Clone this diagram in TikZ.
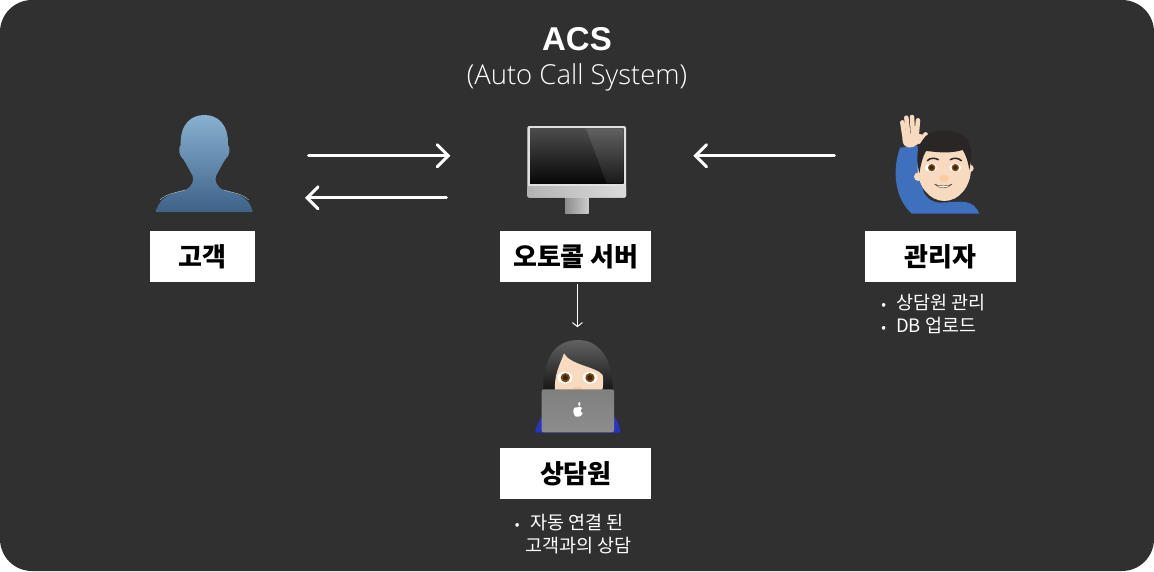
\documentclass[tikz,border=0pt]{standalone}
\usepackage{fontspec}
\setmainfont{Noto Sans CJK KR}
\newfontfamily\titlefont{Liberation Sans}
\newfontfamily\lightfont{Open Sans Light}
\usetikzlibrary{arrows.meta,positioning}
\definecolor{panel}{HTML}{303030}
\definecolor{skin}{HTML}{F8DAC0}
\definecolor{hairdark}{HTML}{2A2625}
\definecolor{shirt}{HTML}{3E70BE}
\definecolor{iris}{HTML}{7A4A12}
\definecolor{headtop}{HTML}{88B0D0}
\definecolor{headbottom}{HTML}{3E6288}
\definecolor{sleeve}{HTML}{2834BE}
\tikzset{
    every picture/.style={x=1pt,y=-1pt},
    namebox/.style={fill=white,text=black,inner sep=0pt,minimum height=51pt,font=\fontsize{26}{26}\selectfont\bfseries},
    iconbox/.style={inner sep=0pt,outer sep=0pt},
    notetext/.style={text=white,inner sep=0pt,align=left,font=\fontsize{18.5}{23}\selectfont},
    flow/.style={draw=white,line width=3pt,line cap=round,-{Straight Barb[length=11pt,width=22pt,line cap=round]}},
    thinflow/.style={draw=white,line width=1pt,-{Straight Barb[length=4pt,width=10pt]}},
    finger/.style={draw=skin,line width=4.5pt,line cap=round},
    zoomed/.style={scale=1/3}
}

\begin{document}
\begin{tikzpicture}
    \useasboundingbox (0,0) rectangle (1154,571);
    \fill[white] (0,0) rectangle (1154,571);
    \fill[panel,rounded corners=32pt] (0,0) rectangle (1154,571);

    \node[namebox,minimum width=105pt] (custbox) at (202.5,256.5) {고객};
    \node[namebox,minimum width=151pt] (srvbox) [right=245pt of custbox] {오토콜 서버};
    \node[namebox,minimum width=151pt] (mgrbox) [right=214pt of srvbox,xshift=-1pt] {관리자};
    \node[namebox,minimum width=151pt] (agentbox) [below=166pt of srvbox] {상담원};

    \node[iconbox,minimum width=100pt,minimum height=98pt] (cust) [above=18pt of custbox,xshift=1.5pt] {};
    \node[iconbox,minimum width=100pt,minimum height=87pt] (server) [above=18pt of srvbox,xshift=1.5pt] {};
    \node[iconbox,minimum width=87pt,minimum height=99pt] (mgr) [above=17pt of mgrbox,xshift=-2pt] {};
    \node[iconbox,minimum width=85pt,minimum height=93pt] (agent) [above=15pt of agentbox,xshift=2pt] {};

    \node[text=white,font=\titlefont\fontsize{33}{33}\selectfont\bfseries] (title) at (577,39) {ACS};
    \node[text=white,font=\lightfont\fontsize{27.5}{27.5}\selectfont] (subtitle) [below=6pt of title] {(Auto Call System)};
    \node[notetext] (mgrnote) [below=12pt of mgrbox,xshift=-7pt] {{\fontsize{14}{14}\selectfont\textbullet}\hspace{10pt}상담원 관리\\{\fontsize{14}{14}\selectfont\textbullet}\hspace{10pt}DB 업로드};
    \node[notetext] (agentnote) [below=14pt of agentbox,xshift=-2.5pt] {{\fontsize{14}{14}\selectfont\textbullet}\hspace{11pt}자동 연결 된\\\hspace{11pt}고객과의 상담};

    \draw[flow,shorten <=54.5pt,shorten >=77pt] ([yshift=8pt]cust.east) -- ([yshift=13.5pt]server.west);
    \draw[flow,shorten <=81pt,shorten >=51pt] ([yshift=-28.5pt]server.west) -- ([yshift=-34pt]cust.east);
    \draw[flow,shorten <=60.5pt,shorten >=66pt] ([yshift=8.5pt]mgr.west) -- ([yshift=13.5pt]server.east);
    \draw[thinflow,shorten <=2pt,shorten >=13pt] (server |- srvbox.south) -- (server |- agent.north);

    % customer
    \begin{scope}[shift={(130,100)},zoomed]
        \shade[top color=headtop,bottom color=headbottom]
            (78,336) .. controls (88,285) and (135,280) .. (165,270) .. controls (188,260) and (192,240) .. (188,228)
            .. controls (178,210) and (168,190) .. (160,178) .. controls (146,168) and (144,142) .. (152,135)
            .. controls (150,70) and (185,45) .. (223,45) .. controls (261,45) and (296,70) .. (294,135)
            .. controls (302,142) and (300,168) .. (286,178) .. controls (278,190) and (268,210) .. (258,228)
            .. controls (254,240) and (258,260) .. (281,270) .. controls (311,280) and (358,285) .. (368,336) -- cycle;
        \draw[headtop!55!white,line width=.4pt] (90,300) .. controls (110,280) and (140,278) .. (165,270);
        \draw[headtop!55!white,line width=.4pt] (281,270) .. controls (306,278) and (336,280) .. (356,300);
    \end{scope}

    % monitor
    \begin{scope}[shift={(490,110)},zoomed]
        \shade[left color=black!45,right color=black!20] (225,260) rectangle (296,310);
        \fill[black!12,rounded corners=2pt] (112,48) rectangle (408,263);
        \shade[left color=black!30,right color=black!14,rounded corners=1.5pt] (112,228) rectangle (408,263);
        \shade[top color=black!70,bottom color=black!97] (120,55) rectangle (401,220);
        \shade[top color=black!62,bottom color=black!90] (288,55) -- (401,55) -- (401,220) -- (350,220) -- cycle;
    \end{scope}

    % manager
    \begin{scope}[shift={(840,105)},zoomed]
        \fill[shirt] (215,326) .. controls (165,280) and (155,200) .. (180,128) -- (232,122) -- (250,260)
            .. controls (262,285) and (285,293) .. (300,293) -- (360,290) .. controls (395,290) and (410,305) .. (418,326) -- cycle;
        \draw[finger] (193,92) -- (187,52);
        \draw[finger] (205,90) -- (199,38);
        \draw[finger] (219,90) -- (216,36);
        \draw[finger] (230,92) -- (234,46);
        \draw[finger] (238,110) -- (257,88);
        \fill[skin] (188,85) .. controls (184,110) and (190,125) .. (205,127) .. controls (228,128) and (242,115) .. (247,88) -- cycle;
        \fill[skin] (235,215) circle[radius=13];
        \fill[skin] (390,190) circle[radius=11];
        \fill[skin] (313,190) ellipse[x radius=80,y radius=98];
        \fill[hairdark] (238,205) .. controls (225,150) and (235,120) .. (248,105) .. controls (265,72) and (325,70) .. (355,85)
            .. controls (390,98) and (402,130) .. (388,195) .. controls (384,170) and (378,150) .. (368,135)
            .. controls (325,148) and (285,140) .. (258,138) .. controls (248,155) and (242,180) .. (238,205) -- cycle;
        \draw[hairdark,line width=1.5pt,line cap=round] (262,167) .. controls (270,158) and (285,158) .. (295,164);
        \draw[hairdark,line width=1.5pt,line cap=round] (331,164) .. controls (340,158) and (355,158) .. (364,167);
        \fill[white] (273,188) ellipse[x radius=18,y radius=12];
        \fill[white] (346,188) ellipse[x radius=18,y radius=12];
        \fill[iris] (275,188) circle[radius=11];
        \fill[iris] (346,188) circle[radius=11];
        \fill[iris!50!black] (275,188) circle[radius=6];
        \fill[iris!50!black] (346,188) circle[radius=6];
        \fill[skin!85!orange] (312,220) ellipse[x radius=15,y radius=11];
        \fill[white,draw=iris!60!black,line width=.4pt] (285,238) .. controls (300,244) and (320,244) .. (335,238) .. controls (325,252) and (295,252) .. (285,238) -- cycle;
    \end{scope}

    % agent
    \begin{scope}[shift={(490,330)},zoomed]
        \fill[sleeve] (135,308) .. controls (140,285) and (150,262) .. (165,252) -- (365,252) .. controls (380,262) and (388,285) .. (392,308) -- cycle;
        \shade[top color=black!62,bottom color=black!92] (160,185) .. controls (158,110) and (180,30) .. (265,30) .. controls (340,30) and (372,110) .. (368,185) -- cycle;
        \fill[skin] (195,185) .. controls (192,130) and (210,105) .. (222,70) .. controls (240,105) and (320,110) .. (338,135) .. controls (340,150) and (340,170) .. (336,185) -- cycle;
        \fill[white] (225,143) ellipse[x radius=22,y radius=18];
        \fill[white] (300,143) ellipse[x radius=22,y radius=18];
        \fill[iris] (226,143) circle[radius=14];
        \fill[iris] (300,143) circle[radius=14];
        \fill[iris!50!black] (226,143) circle[radius=8];
        \fill[iris!50!black] (300,143) circle[radius=8];
        \fill[skin!85!orange] (262,175) ellipse[x radius=14,y radius=5];
        \shade[top color=black!50,bottom color=black!45,rounded corners=2pt] (155,178) rectangle (372,307);
        \fill[white] (263,232) .. controls (256,228) and (250,234) .. (250,244) .. controls (250,254) and (257,263) .. (263,260)
            .. controls (269,263) and (276,256) .. (278,250) .. controls (270,246) and (270,236) .. (276,234) .. controls (272,229) and (267,229) .. (263,232) -- cycle;
        \fill[white] (268,222) ellipse[x radius=3,y radius=6];
    \end{scope}
\end{tikzpicture}
\end{document}
